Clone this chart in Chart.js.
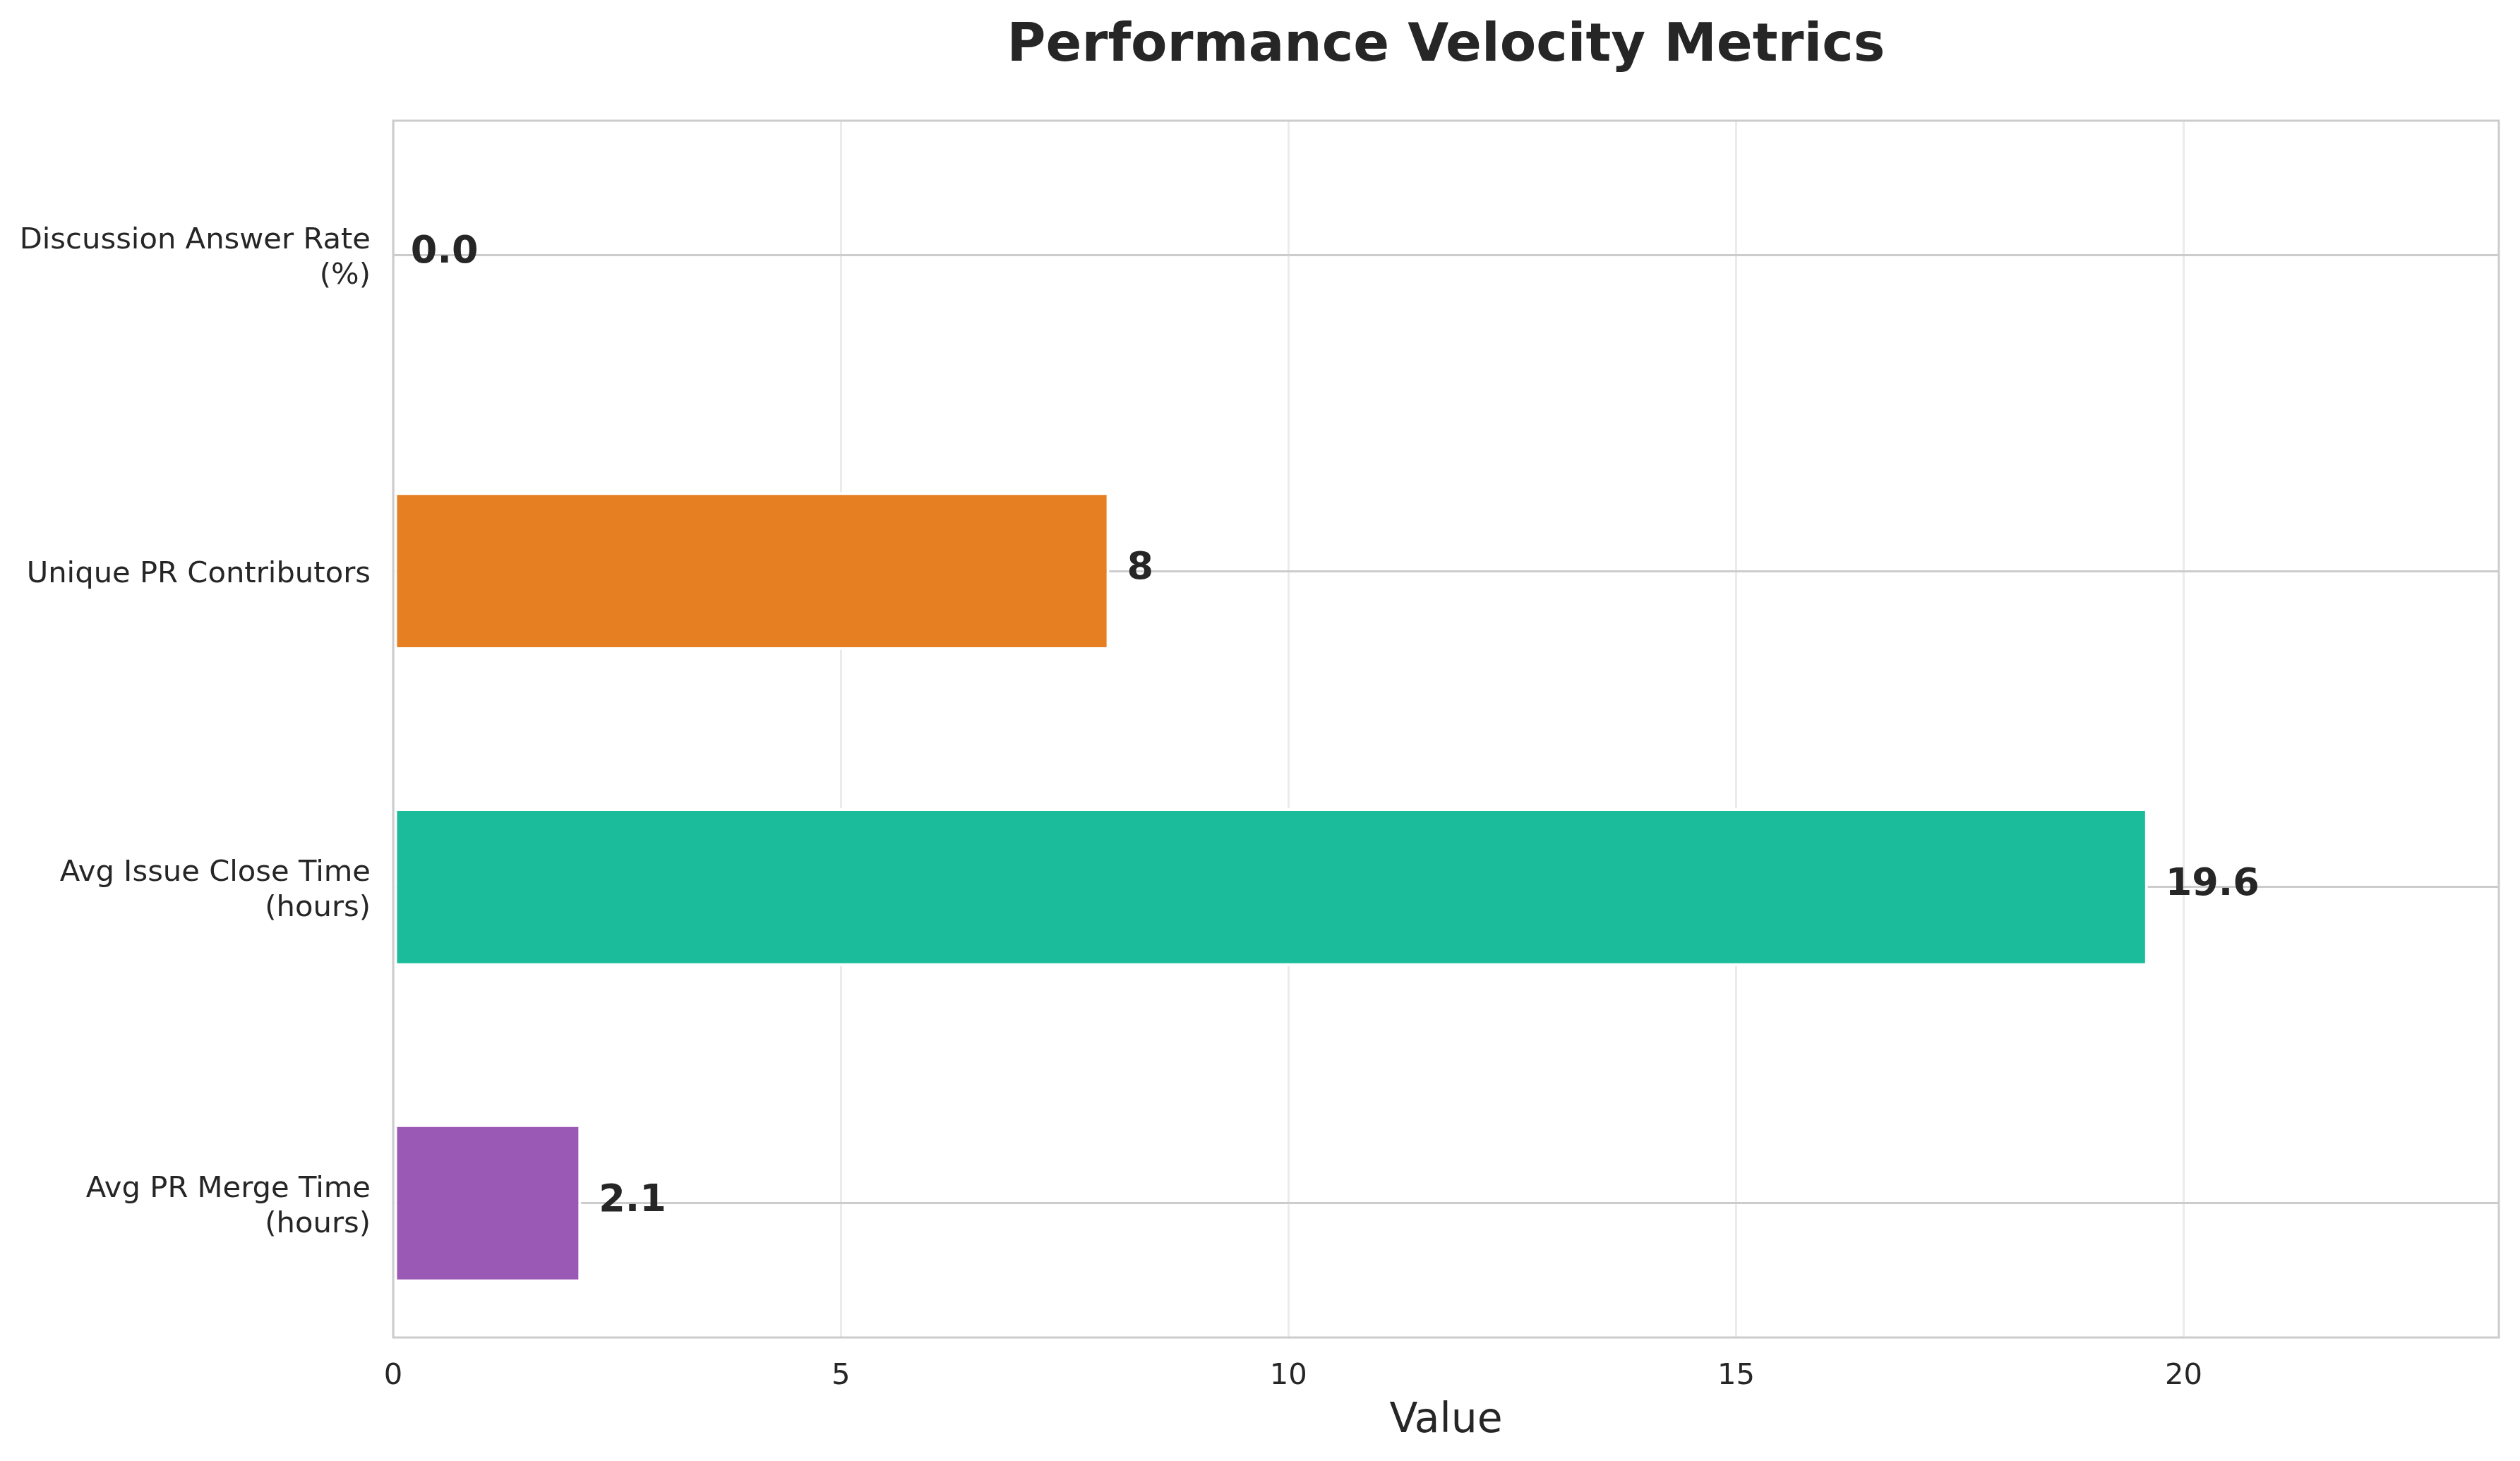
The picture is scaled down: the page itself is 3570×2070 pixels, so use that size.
<!DOCTYPE html>
<html>
<head>
<meta charset="utf-8">
<script src="https://cdn.jsdelivr.net/npm/chart.js@4.4.1/dist/chart.umd.min.js"></script>
<style>html,body{margin:0;padding:0;background:#ffffff;}canvas{display:block;}</style>
</head>
<body>
<canvas id="c" width="3570" height="2070"></canvas>
<script>
// ---- data (matplotlib barh order: first item at the bottom) ----
const categories = [
  ['Avg PR Merge Time', '(hours)'],
  ['Avg Issue Close Time', '(hours)'],
  'Unique PR Contributors',
  ['Discussion Answer Rate', '(%)']
];
const values = [2.1, 19.6, 8, 0.0];
const valueDecimals = [1, 1, 0, 1];
const barColors = ['#9B59B6', '#1ABC9C', '#E67E22', '#3498DB'];
const xTicks = [0, 5, 10, 15, 20];
const chartTitle = 'Performance Velocity Metrics';
const xTitle = 'Value';

const FONT = "'DejaVu Sans', 'Liberation Sans', sans-serif";
const TEXT = '#262626';
const xMax = Math.max(...values) * 1.2;

const spinesAndLabels = {
  id: 'spinesAndLabels',
  afterDatasetsDraw(chart) {
    const ctx = chart.ctx;
    const a = chart.chartArea;
    ctx.save();
    ctx.strokeStyle = '#cccccc';
    ctx.lineWidth = 3;
    ctx.strokeRect(a.left, a.top, a.right - a.left, a.bottom - a.top);
    const meta = chart.getDatasetMeta(0);
    const xs = chart.scales.x;
    ctx.fillStyle = TEXT;
    ctx.font = "bold 54px " + FONT;
    ctx.textAlign = 'left';
    ctx.textBaseline = 'middle';
    meta.data.forEach((bar, i) => {
      const v = values[i];
      const px = xs.getPixelForValue(v + Math.max(...values) * 0.01);
      ctx.fillText(v.toFixed(valueDecimals[i]), px, bar.y - 3);
    });
    ctx.restore();
  }
};

new Chart(document.getElementById('c'), {
  type: 'bar',
  data: {
    datasets: [{
      data: values.map((v, i) => ({ x: v, y: i })),
      backgroundColor: barColors,
      borderColor: '#ffffff',
      borderWidth: 4,
      borderSkipped: false,
      barPercentage: 0.5,
      categoryPercentage: 1.0
    }]
  },
  options: {
    indexAxis: 'y',
    responsive: false,
    devicePixelRatio: 1,
    animation: false,
    layout: { padding: { left: 0, right: 30, top: 0, bottom: 0 } },
    plugins: {
      legend: { display: false },
      tooltip: { enabled: false },
      title: {
        display: true,
        text: chartTitle,
        fullSize: false,
        color: TEXT,
        font: { family: FONT, size: 75, weight: 'bold', lineHeight: 1.2 },
        padding: { top: 22, bottom: 59 }
      }
    },
    scales: {
      x: {
        type: 'linear',
        position: 'bottom',
        min: 0,
        max: xMax,
        offset: false,
        afterBuildTicks: s => { s.ticks = xTicks.map(v => ({ value: v })); },
        afterFit: s => { s.height = 175; },
        grid: { color: '#ebebeb', lineWidth: 3, drawTicks: false, offset: false },
        border: { display: false },
        ticks: { padding: 30, color: TEXT, font: { family: FONT, size: 41.7 } },
        title: {
          display: true, text: xTitle, color: TEXT,
          font: { family: FONT, size: 58.3, lineHeight: 1.2 },
          padding: { top: 0, bottom: 21 }
        }
      },
      y: {
        type: 'linear',
        position: 'left',
        min: -0.425,
        max: 3.425,
        offset: false,
        afterBuildTicks: s => { s.ticks = categories.map((c, i) => ({ value: i })); },
        afterFit: s => { s.width = 557; },
        grid: { color: '#cccccc', lineWidth: 3, drawTicks: false, offset: false },
        border: { display: false },
        ticks: {
          padding: 32,
          labelOffset: 5,
          color: TEXT,
          autoSkip: false,
          font: { family: FONT, size: 41.7, lineHeight: 1.2 },
          callback: v => categories[v]
        }
      }
    }
  },
  plugins: [spinesAndLabels]
});
</script>
</body>
</html>
